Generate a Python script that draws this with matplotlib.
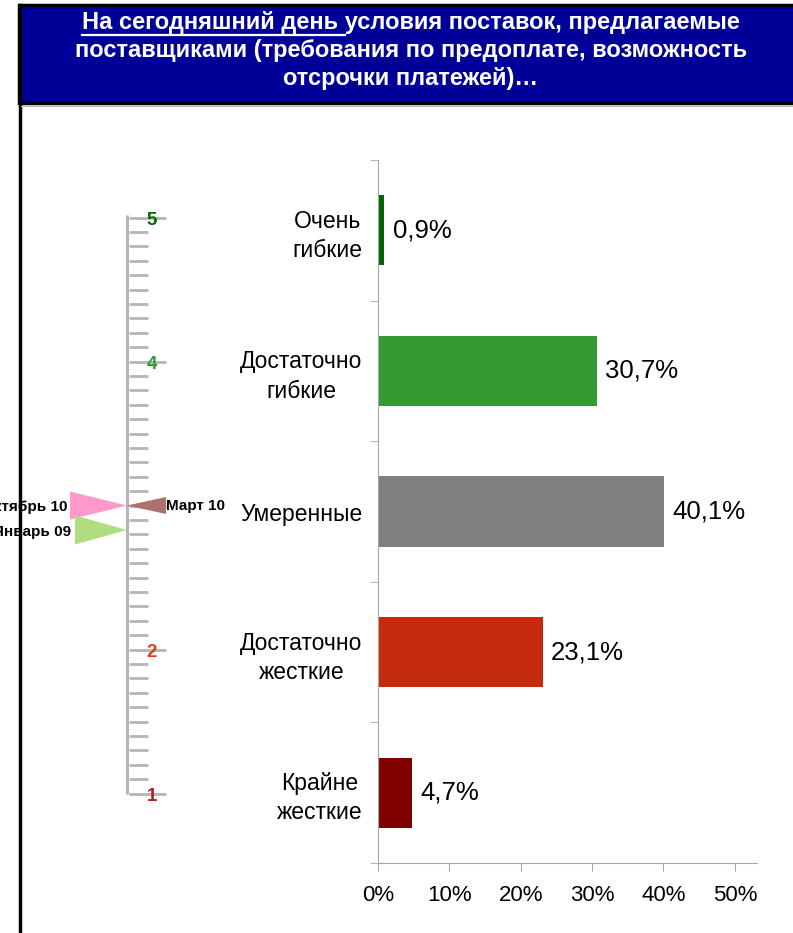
import numpy as np
import matplotlib
matplotlib.use("Agg")
import matplotlib.pyplot as plt
from matplotlib.patches import Rectangle, Polygon

plt.rcParams['font.family'] = ['Liberation Sans', 'DejaVu Sans']

# data
categories = ["Очень\nгибкие", "Достаточно\nгибкие", "Умеренные", "Достаточно\nжесткие", "Крайне\nжесткие"]
shares = [0.9, 30.7, 40.1, 23.1, 4.7]
bar_colors = ["#006600", "#339933", "#808080", "#C52A0C", "#800000"]
xticks_pct = [0, 10, 20, 30, 40, 50]

scale_labels = ["1", "2", "4", "5"]
scale_label_vals = [1, 2, 4, 5]
scale_label_colors = ["#A8231A", "#E23B1C", "#339933", "#006600"]

period_names = ["Октябрь 10", "Январь 09", "Март 10"]
period_vals = [3.0, 2.83, 3.0]
period_colors = ["#FF99CC", "#B0DD80", "#B07070"]

title_lines = ["На сегодняшний день условия поставок, предлагаемые",
               "поставщиками (требования по предоплате, возможность",
               "отсрочки платежей)…"]
underlined = "На сегодняшний день "

W, H = 793, 933
fig = plt.figure(figsize=(W / 100, H / 100), dpi=100)

# background / frame in pixel coords
bg = fig.add_axes([0, 0, 1, 1], zorder=0)
bg.set_xlim(0, W)
bg.set_ylim(H, 0)
bg.axis('off')
bg.add_patch(Rectangle((19, 5), W + 10, 98, facecolor='#000099', edgecolor='black', lw=2.5))
bg.plot([19.5, 19.5], [5, H], color='black', lw=2.5)
bg.plot([21, W], [106, 106], color='#C0C0C0', lw=0.8)

tsize = 17
title_y = [23, 51, 79]
title_texts = []
for line, y in zip(title_lines, title_y):
    t = bg.text(411, y, line, color='white', fontsize=tsize, fontweight='bold',
                ha='center', va='center')
    title_texts.append(t)

# underline first part of first line
fig.canvas.draw()
r = fig.canvas.get_renderer()
bb = title_texts[0].get_window_extent(r)
tmp = bg.text(0, 0, underlined.replace(" ", "\u00a0"), fontsize=tsize, fontweight='bold')
wpre = tmp.get_window_extent(r).width
tmp.remove()
x0 = bb.x0 / fig.dpi * 100
bg.plot([x0, x0 + wpre], [34.5, 34.5], color='white', lw=1.6)

# bar chart
ax = fig.add_axes([378 / W, (H - 863) / H, (757 - 378) / W, (863 - 160) / H], zorder=2)
ypos = np.arange(len(categories))
ax.barh(ypos, shares, height=0.5, color=bar_colors)
ax.set_ylim(len(categories) - 0.5, -0.5)
ax.set_xlim(0, 53.1)
ax.set_yticks(ypos)
ax.set_yticklabels(categories, fontsize=16.5, multialignment='center', linespacing=1.35)
ax.set_yticks(np.arange(-0.5, len(categories), 1), minor=True)
ax.tick_params(axis='y', which='major', length=0, pad=11)
ax.tick_params(axis='y', which='minor', length=6, color='#A6A6A6', direction='out')
ax.set_xticks(xticks_pct)
ax.set_xticklabels([f"{v}%" for v in xticks_pct], fontsize=16)
ax.tick_params(axis='x', length=6, color='#A6A6A6', pad=10)
for s in ['top', 'right']:
    ax.spines[s].set_visible(False)
for s in ['left', 'bottom']:
    ax.spines[s].set_color('#A6A6A6')
ax.patch.set_alpha(0)
for y, v in zip(ypos, shares):
    ax.annotate(f"{v:.1f}%".replace('.', ','), (v, y), xytext=(6, 0),
                textcoords='offset points', va='center', ha='left', fontsize=18.5)

# scale on the left
px_per_unit = 144.0
y_one = 793.5
def val(py):
    return 1 + (y_one - py) / px_per_unit

sa = fig.add_axes([0, (H - 830) / H, 240 / W, (830 - 180) / H], zorder=1)
sa.set_xlim(0, 240)
sa.set_ylim(val(830), val(180))
sa.axis('off')
sa.patch.set_alpha(0)
gray = '#B5B5B5'
sa.plot([127, 127], [1, 5.02], color=gray, lw=2.2, solid_capstyle='butt')
minor = [v for v in np.round(np.arange(1.1, 5.0, 0.1), 2) if abs(v - round(v)) > 1e-6]
sa.hlines(minor, 129, 148, color=gray, lw=2.0)
sa.hlines([1, 2, 3, 4, 5], 129, 166, color=gray, lw=2.0)
for lab, v, c in zip(scale_labels, scale_label_vals, scale_label_colors):
    sa.text(152, v - 3 / px_per_unit, lab, color=c, fontsize=13.5, fontweight='bold',
            ha='center', va='center')

# period markers: (base x, half height px, side, label x, label dy px)
shapes = [(70, 14, 'left', 68, -2), (75, 14.5, 'left', 71, -2), (166, 8.5, 'right', 166, 0)]
for name, v, c, (bx, hh, side, lx, dy) in zip(period_names, period_vals, period_colors, shapes):
    h = hh / px_per_unit
    sa.add_patch(Polygon([(127, v), (bx, v + h), (bx, v - h)], closed=True,
                         facecolor=c, edgecolor='none', zorder=3))
    sa.text(lx, v + dy / px_per_unit, name, fontsize=11, fontweight='bold',
            ha='right' if side == 'left' else 'left', va='center', zorder=4)

fig.savefig("out.png", dpi=100)
